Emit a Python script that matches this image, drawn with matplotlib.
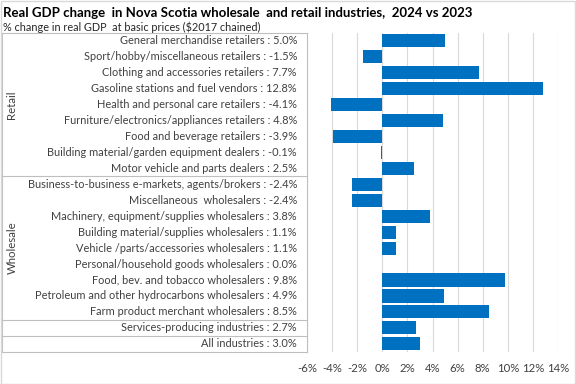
import numpy as np
import matplotlib.pyplot as plt

plt.rcParams['font.family'] = ['Lato', 'DejaVu Sans']

# data
retail_labels = ['General merchandise retailers', 'Sport/hobby/miscellaneous retailers',
                 'Clothing and accessories retailers', 'Gasoline stations and fuel vendors',
                 'Health and personal care retailers', 'Furniture/electronics/appliances retailers',
                 'Food and beverage retailers', 'Building material/garden equipment dealers',
                 'Motor vehicle and parts dealers']
retail_values = [5.0, -1.5, 7.7, 12.8, -4.1, 4.8, -3.9, -0.1, 2.5]
wholesale_labels = ['Business-to-business e-markets, agents/brokers', 'Miscellaneous  wholesalers',
                    'Machinery, equipment/supplies wholesalers', 'Building material/supplies wholesalers',
                    'Vehicle /parts/accessories wholesalers', 'Personal/household goods wholesalers',
                    'Food, bev. and tobacco wholesalers', 'Petroleum and other hydrocarbons wholesalers',
                    'Farm product merchant wholesalers']
wholesale_values = [-2.4, -2.4, 3.8, 1.1, 1.1, 0.0, 9.8, 4.9, 8.5]
total_labels = ['Services-producing industries', 'All industries']
total_values = [2.7, 3.0]
x_ticks = list(range(-6, 15, 2))

labels = retail_labels + wholesale_labels + total_labels
values = retail_values + wholesale_values + total_values
n = len(values)
y = np.arange(n)

W, H = 576, 384
fig = plt.figure(figsize=(W / 100, H / 100), dpi=100)
ax = fig.add_axes([307 / W, 1 - 351.8 / H, 251 / W, 319 / H])

ax.barh(y, values, height=0.82, color='#0070C0', zorder=3)
ax.set_xlim(-6, 14)
ax.set_ylim(n - 0.5, -0.5)
ax.set_xticks(x_ticks)
ax.set_xticklabels([f'{t}%' for t in x_ticks], fontsize=8.2, color='#404040')
ax.set_yticks([])
ax.tick_params(axis='x', length=0, pad=8)
ax.grid(axis='x', color='#d9d9d9', linewidth=0.8, zorder=0)
for s in ax.spines.values():
    s.set_visible(False)

# category table on the left
tr = ax.get_yaxis_transform()
px = lambda p: (p - 307) / 251  # figure pixel -> axes x
for i, (lab, v) in enumerate(zip(labels, values)):
    ax.text(px(297), i, f'{lab} : {v:.1f}%', transform=tr, ha='right', va='center',
            fontsize=7.9, color='#404040', clip_on=False)

lc = '#bfbfbf'
x0, x1 = px(2), 0
for yy in [-0.5, 8.5, 17.5, 18.5, n - 0.5]:
    ax.plot([x0, x1], [yy, yy], transform=tr, color=lc, lw=0.8, clip_on=False)
ax.plot([x0, x0], [-0.5, n - 0.5], transform=tr, color=lc, lw=0.8, clip_on=False)
ax.plot([x1, x1], [-0.5, n - 0.5], transform=tr, color=lc, lw=0.8, clip_on=False)

ax.text(px(12), 4, 'Retail', transform=tr, rotation=90, ha='center', va='center',
        fontsize=8.2, color='#404040')
ax.text(px(12), 13, 'Wholesale', transform=tr, rotation=90, ha='center', va='center',
        fontsize=8.2, color='#404040')

fig.text(3 / W, 1 - 13 / H, 'Real GDP change  in Nova Scotia wholesale  and retail industries,  2024 vs 2023',
         fontsize=9.5, fontweight='bold', ha='left', va='center')
fig.text(3 / W, 1 - 27 / H, '% change in real GDP  at basic prices ($2017 chained)',
         fontsize=7.8, ha='left', va='center', color='#262626')

fig.patches.append(plt.Rectangle((0.001, 0.001), 0.997, 0.997, transform=fig.transFigure,
                                 fill=False, edgecolor='#d9d9d9', lw=1))

fig.savefig('out.png', dpi=100)
